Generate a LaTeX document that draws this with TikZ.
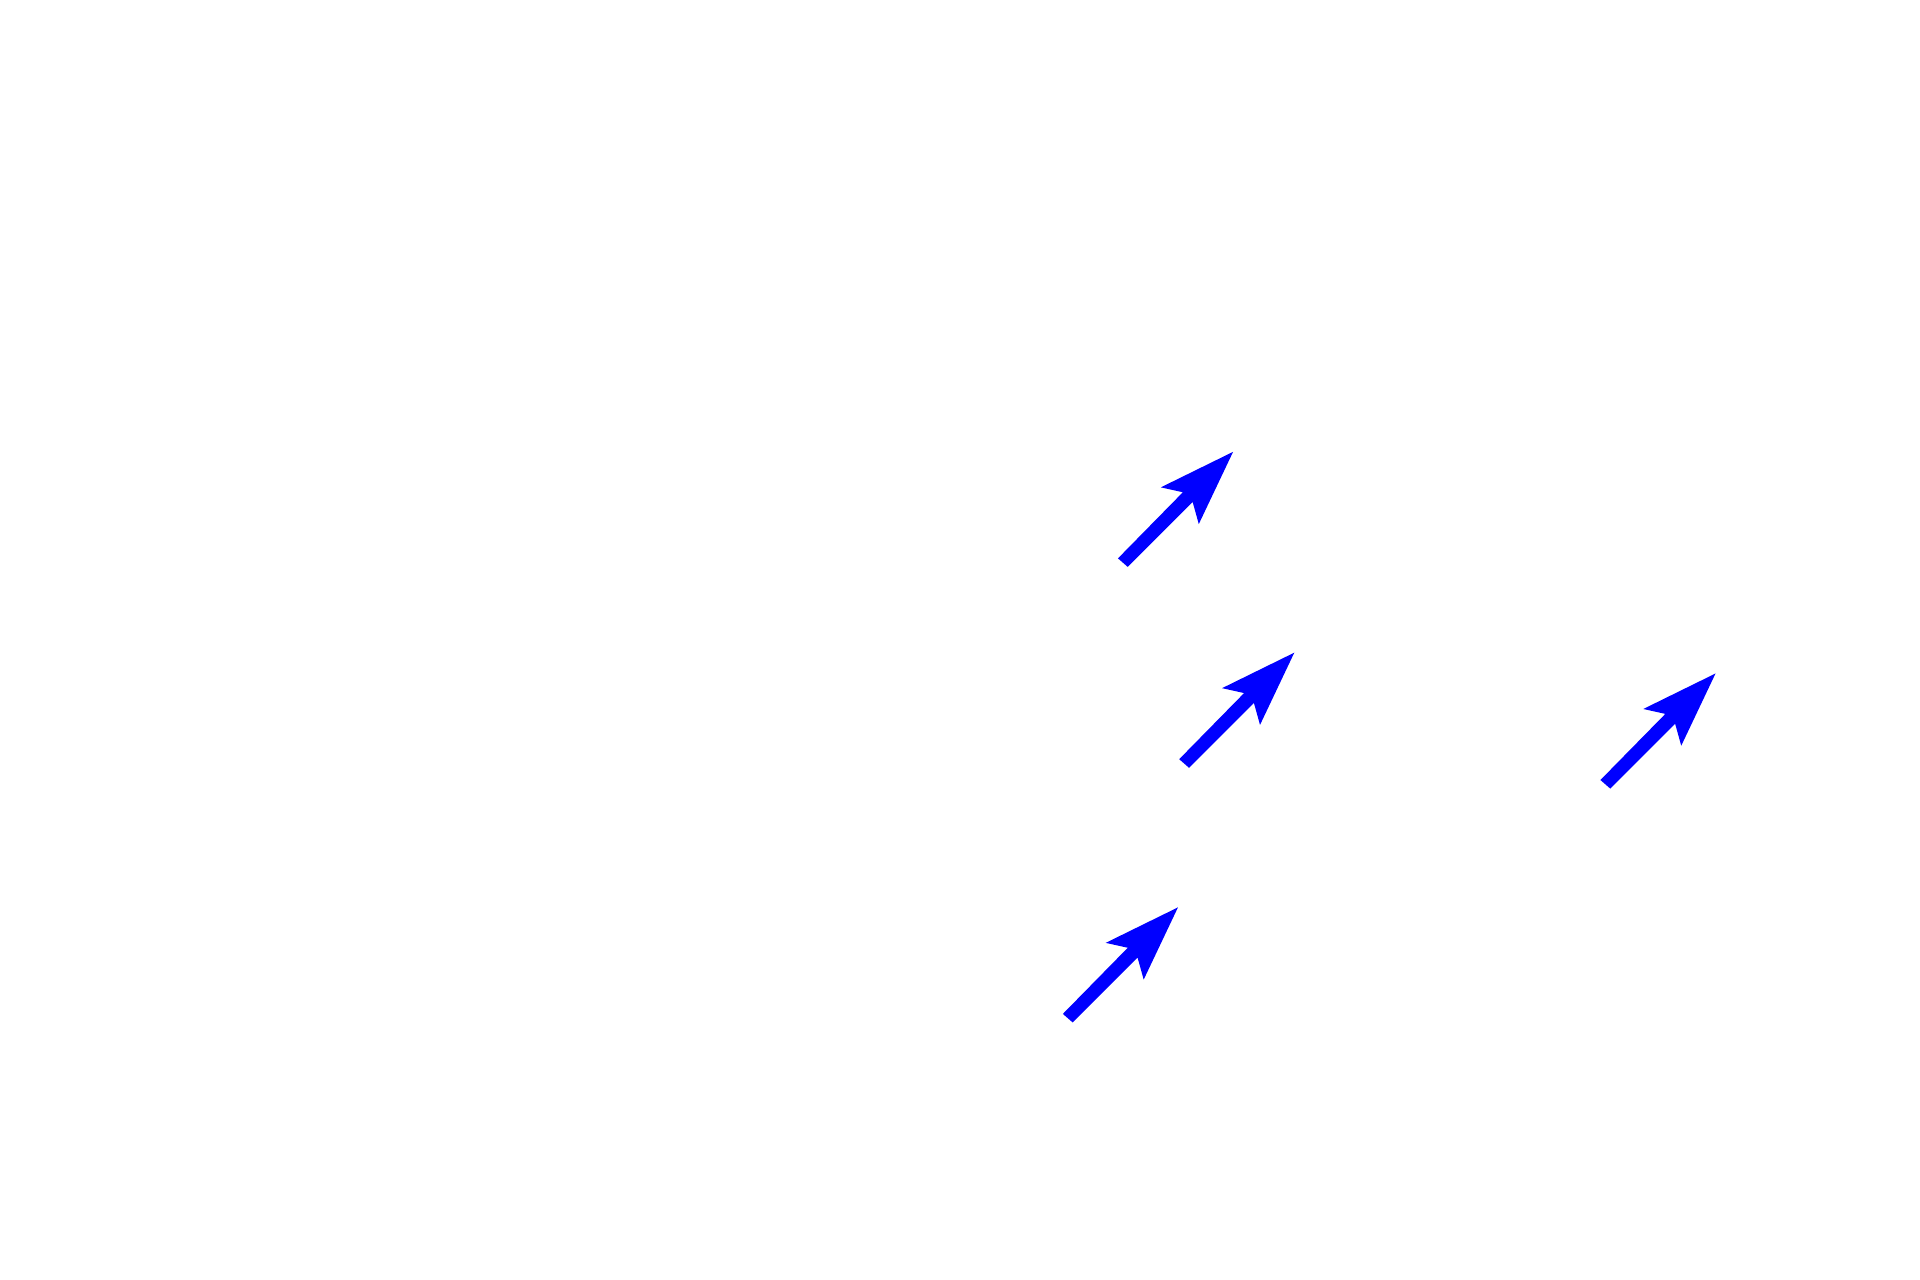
\documentclass[tikz,border=0pt]{standalone}
\begin{document}
\begin{tikzpicture}[x=1pt,y=-1pt,
  blueptr/.pic={\fill[blue] (0,0)--(-59,29)--(-41,33)--(-94,87)--(-86,94)--(-33,41)--(-28,59)--cycle;}]
\useasboundingbox (0,0) rectangle (1568,1045);
\fill[white] (0,0) rectangle (1568,1045);
\coordinate (t1) at (1007,369);
\coordinate (t2) at (1057,533);
\coordinate (t3) at (1401,550);
\coordinate (t4) at (962,741);
\foreach \t in {t1,t2,t3,t4} \pic at (\t) {blueptr};
\end{tikzpicture}
\end{document}
